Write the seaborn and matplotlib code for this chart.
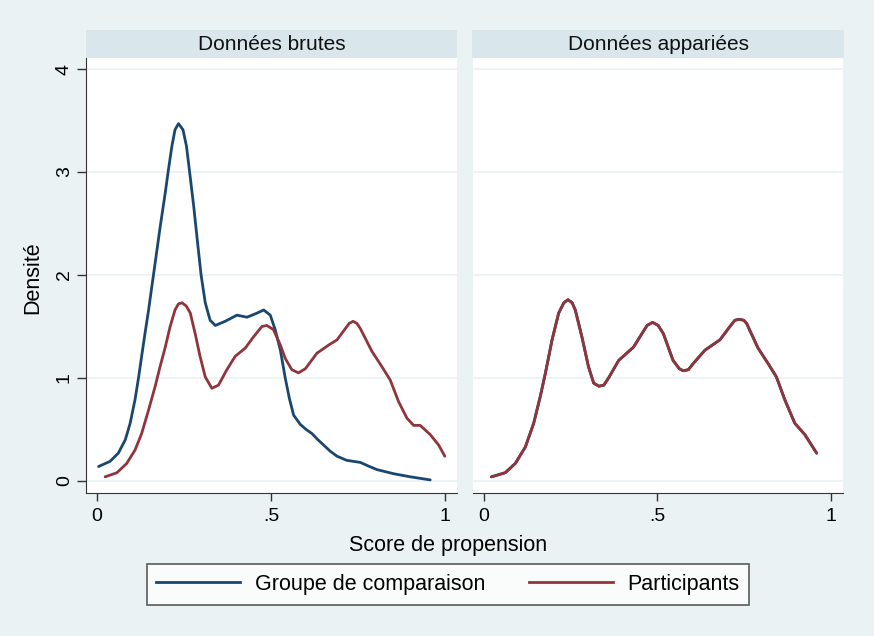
import pandas as pd
import numpy as np
import matplotlib
matplotlib.use('Agg')
import matplotlib.pyplot as plt
from matplotlib.lines import Line2D
import seaborn as sns

# densités
brutes_comp_x = [0.004, 0.037, 0.061, 0.081, 0.095, 0.109, 0.119, 0.128, 0.138, 0.148,
                 0.157, 0.167, 0.181, 0.196, 0.205, 0.215, 0.224, 0.234, 0.247, 0.257,
                 0.266, 0.278, 0.289, 0.299, 0.311, 0.325, 0.34, 0.368, 0.402, 0.431,
                 0.46, 0.479, 0.498, 0.512, 0.527, 0.541, 0.553, 0.565, 0.584, 0.601,
                 0.618, 0.635, 0.651, 0.67, 0.69, 0.718, 0.757, 0.78, 0.805, 0.853,
                 0.901, 0.958]
brutes_comp_y = [0.14, 0.19, 0.27, 0.4, 0.56, 0.79, 1.0, 1.21, 1.44, 1.66,
                 1.88, 2.12, 2.46, 2.8, 3.02, 3.25, 3.41, 3.47, 3.41, 3.25,
                 3.0, 2.66, 2.31, 2.0, 1.73, 1.56, 1.51, 1.55, 1.61, 1.59,
                 1.63, 1.66, 1.61, 1.47, 1.27, 1.0, 0.8, 0.64, 0.55, 0.5,
                 0.46, 0.4, 0.35, 0.29, 0.24, 0.2, 0.18, 0.145, 0.11, 0.07,
                 0.04, 0.01]

brutes_part_x = [0.023, 0.057, 0.085, 0.109, 0.128, 0.148, 0.167, 0.181, 0.196, 0.21,
                 0.224, 0.234, 0.244, 0.256, 0.268, 0.282, 0.296, 0.311, 0.33, 0.349,
                 0.373, 0.397, 0.426, 0.45, 0.474, 0.488, 0.507, 0.527, 0.541, 0.56,
                 0.579, 0.599, 0.632, 0.666, 0.69, 0.714, 0.725, 0.736, 0.747, 0.757,
                 0.79, 0.819, 0.843, 0.867, 0.891, 0.91, 0.929, 0.958, 0.982, 1.0]
brutes_part_y = [0.04, 0.08, 0.17, 0.3, 0.46, 0.69, 0.92, 1.11, 1.3, 1.5,
                 1.66, 1.72, 1.73, 1.7, 1.63, 1.43, 1.21, 1.01, 0.9, 0.93,
                 1.08, 1.21, 1.29, 1.4, 1.5, 1.51, 1.47, 1.32, 1.19, 1.08,
                 1.05, 1.09, 1.24, 1.32, 1.37, 1.48, 1.53, 1.55, 1.53, 1.48,
                 1.26, 1.11, 0.98, 0.77, 0.61, 0.54, 0.54, 0.45, 0.35, 0.24]

# après appariement les deux courbes se superposent
appariees_x = [0.021, 0.061, 0.09, 0.119, 0.143, 0.162, 0.177, 0.196, 0.215, 0.23,
               0.242, 0.254, 0.263, 0.282, 0.301, 0.316, 0.331, 0.345, 0.359, 0.388,
               0.431, 0.455, 0.47, 0.486, 0.502, 0.517, 0.545, 0.563, 0.574, 0.589,
               0.603, 0.637, 0.68, 0.709, 0.723, 0.736, 0.749, 0.757, 0.79, 0.819,
               0.843, 0.867, 0.896, 0.925, 0.959]
appariees_y = [0.04, 0.08, 0.17, 0.33, 0.56, 0.82, 1.05, 1.37, 1.63, 1.73,
               1.76, 1.73, 1.66, 1.4, 1.11, 0.95, 0.92, 0.93, 1.0, 1.17,
               1.3, 1.43, 1.51, 1.54, 1.51, 1.43, 1.17, 1.09, 1.07, 1.08,
               1.14, 1.27, 1.37, 1.5, 1.56, 1.57, 1.56, 1.53, 1.29, 1.14,
               1.01, 0.79, 0.56, 0.45, 0.27]

groupes = ['Groupe de comparaison', 'Participants']
panneaux = ['Données brutes', 'Données appariées']
couleurs = {'Groupe de comparaison': '#1a476f', 'Participants': '#90353b'}


def bloc(panneau, groupe, xs, ys):
    return pd.DataFrame({'panneau': panneau, 'groupe': groupe, 'score': xs, 'densite': ys})


df = pd.concat([
    bloc(panneaux[0], groupes[0], brutes_comp_x, brutes_comp_y),
    bloc(panneaux[0], groupes[1], brutes_part_x, brutes_part_y),
    bloc(panneaux[1], groupes[0], appariees_x, appariees_y),
    bloc(panneaux[1], groupes[1], appariees_x, appariees_y),
], ignore_index=True)

plt.rcParams['font.family'] = ['Liberation Sans', 'DejaVu Sans']

fond = '#eaf2f3'
W, H = 874, 636
fig = plt.figure(figsize=(W / 100, H / 100), dpi=100, facecolor=fond)

cadres = [(86, 457), (473, 843)]
haut, bas = 58, 493
for i, (panneau, (x0, x1)) in enumerate(zip(panneaux, cadres)):
    ax = fig.add_axes([x0 / W, 1 - bas / H, (x1 - x0) / W, (bas - haut) / H])
    ax.set_facecolor('white')
    sub = df[df['panneau'] == panneau]
    sns.lineplot(data=sub, x='score', y='densite', hue='groupe', hue_order=groupes,
                 palette=couleurs, estimator=None, sort=False, linewidth=2.0,
                 solid_joinstyle='round', solid_capstyle='round', legend=False, ax=ax)
    ax.set_xlim(-0.032, 1.035)
    ax.set_ylim(-0.117, 4.107)
    ax.set_yticks([0, 1, 2, 3, 4])
    ax.set_xticks([0, 0.5, 1])
    ax.set_xticklabels(['0', '.5', '1'])
    ax.grid(axis='y', color=fond, linewidth=1.2)
    ax.grid(axis='x', visible=False)
    ax.set_axisbelow(True)
    ax.set_xlabel('')
    ax.set_ylabel('')
    for s in ['top', 'right']:
        ax.spines[s].set_visible(False)
    ax.spines['bottom'].set_color('#333333')
    ax.spines['left'].set_color('#333333')
    ax.tick_params(axis='x', length=6, width=1, color='#333333', labelsize=14, pad=5)
    ax.tick_params(axis='y', length=6.5, width=1, color='#333333', labelsize=14,
                   labelrotation=90, pad=3)
    for t in ax.get_yticklabels():
        t.set_va('center')
    if i == 1:
        ax.spines['left'].set_visible(False)
        ax.tick_params(axis='y', left=False, labelleft=False)

    # bandeau du titre de panneau
    sx0, sx1 = (86, 457) if i == 0 else (472, 844)
    st = fig.add_axes([sx0 / W, 1 - 58 / H, (sx1 - sx0) / W, 28 / H])
    st.set_facecolor('#d9e6eb')
    st.set_xticks([])
    st.set_yticks([])
    for s in st.spines.values():
        s.set_visible(False)
    st.text(0.5, 0.48, panneau, ha='center', va='center', fontsize=15, color='#111111')

fig.text(33 / W, 1 - 278 / H, 'Densité', rotation=90, ha='center', va='center', fontsize=15.5)
fig.text(448 / W, 1 - 546 / H, 'Score de propension', ha='center', va='center', fontsize=15.5)

poignees = [Line2D([0], [0], color=couleurs[g], linewidth=2.0) for g in groupes]
leg = fig.legend(poignees, groupes, loc='center', bbox_to_anchor=(448 / W, 1 - 584.5 / H),
                 ncol=2, fontsize=15.5, frameon=True, fancybox=False, handlelength=3.9,
                 handletextpad=0.7, columnspacing=2.0, borderpad=0.45)
leg.get_frame().set_edgecolor('#333333')
leg.get_frame().set_linewidth(1.2)
leg.get_frame().set_facecolor('white')

fig.savefig('out.png', dpi=100, facecolor=fond)
